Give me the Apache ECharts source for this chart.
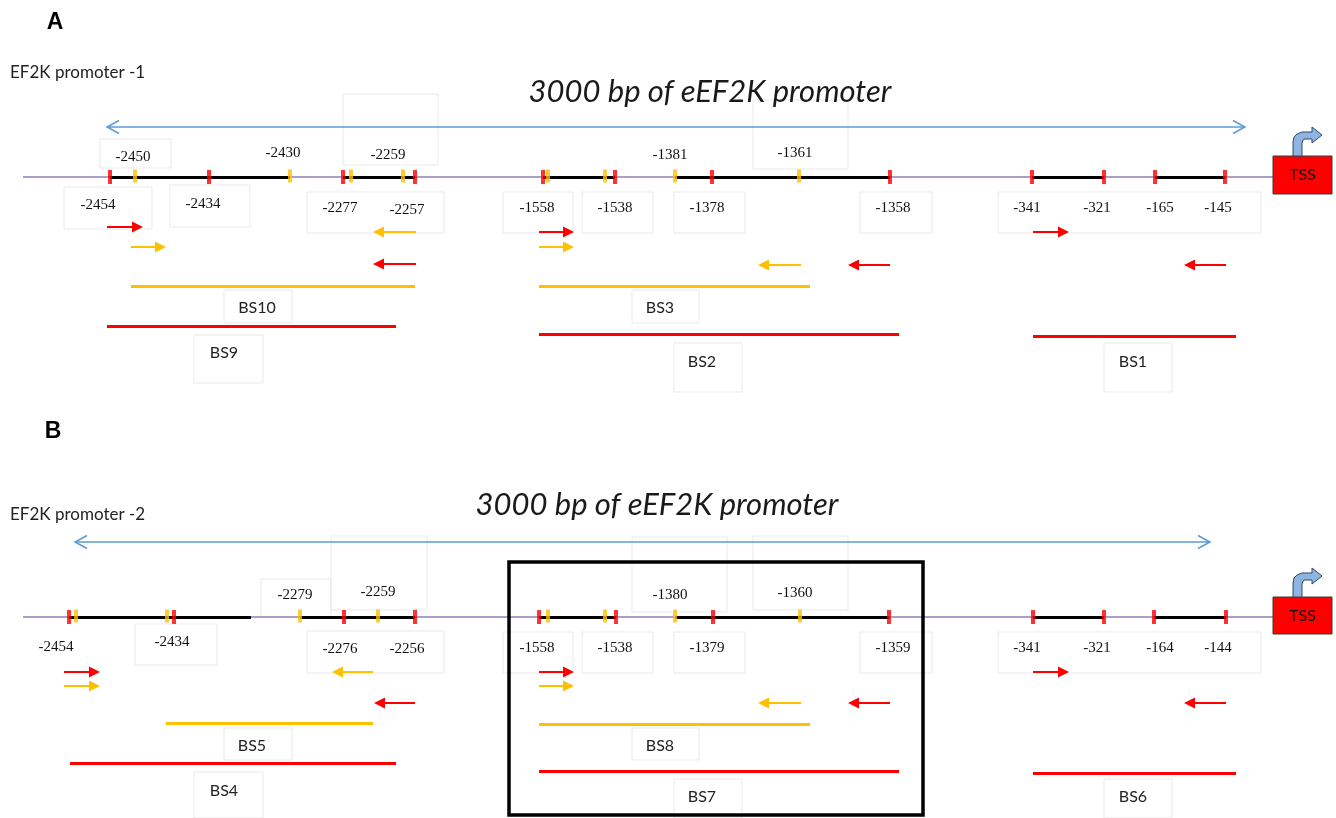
<!DOCTYPE html>
<html>
<head>
<meta charset="utf-8">
<title>eEF2K promoter</title>
<script src="https://cdn.jsdelivr.net/npm/echarts@6/dist/echarts.min.js"></script>
<style>
  html, body { margin: 0; padding: 0; background: #fff; }
  #main { width: 1336px; height: 818px; }
</style>
</head>
<body>
<div id="main"></div>
<script>
  // diagram units: x along the drawing, y down the page (1 unit ~ 1px)

  // ---- panel A : EF2K promoter -1 ----
  var promoterA = 'EF2K promoter -1';
  var baseA = 177;
  var spanA = [107, 1245];
  var blackA = [[110, 290], [343, 415], [543, 615], [675, 890], [1032, 1104], [1155, 1225]];
  var redTickA = [110, 209, 343, 415, 543, 615, 712, 890, 1032, 1104, 1155, 1225];
  var yellowTickA = [135, 290, 351, 403, 548, 605, 675, 799];
  var sitesA = [
    ['-2450', 133, 157], ['-2430', 283, 153], ['-2259', 388, 155], ['-1381', 670, 155], ['-1361', 795, 153],
    ['-2454', 98, 205], ['-2434', 203, 204], ['-2277', 340, 208], ['-2257', 407, 210],
    ['-1558', 537, 208], ['-1538', 615, 208], ['-1378', 707, 208], ['-1358', 893, 208],
    ['-341', 1027, 208], ['-321', 1097, 208], ['-165', 1160, 208], ['-145', 1218, 208]
  ];
  var redPrimerA = [[107, 143, 227], [416, 373, 264], [539, 574, 232], [890, 848, 265], [1033, 1069, 232], [1226, 1184, 265]];
  var yellowPrimerA = [[131, 166, 247], [416, 373, 232], [539, 574, 247], [801, 758, 265]];
  var yellowBsA = [[131, 415, 286], [539, 810, 286]];
  var redBsA = [[107, 396, 326], [539, 899, 334], [1033, 1236, 336]];
  var bsNamesA = [['BS10', 257, 308], ['BS3', 660, 308], ['BS9', 224, 353], ['BS2', 702, 362], ['BS1', 1133, 362]];

  // ---- panel B : EF2K promoter -2 ----
  var promoterB = 'EF2K promoter -2';
  var baseB = 617;
  var spanB = [75, 1210];
  var blackB = [[69, 251], [300, 415], [539, 616], [675, 889], [1033, 1104], [1154, 1226]];
  var redTickB = [69, 174, 344, 415, 539, 616, 713, 889, 1033, 1104, 1154, 1226];
  var yellowTickB = [76, 167, 300, 378, 548, 605, 675, 800];
  var sitesB = [
    ['-2279', 295, 595], ['-2259', 378, 592], ['-1380', 670, 595], ['-1360', 795, 593],
    ['-2454', 56, 647], ['-2434', 172, 642], ['-2276', 340, 649], ['-2256', 407, 649],
    ['-1558', 537, 648], ['-1538', 615, 648], ['-1379', 707, 648], ['-1359', 893, 648],
    ['-341', 1027, 648], ['-321', 1097, 648], ['-164', 1160, 648], ['-144', 1218, 648]
  ];
  var redPrimerB = [[64, 100, 672], [415, 374, 703], [539, 574, 672], [890, 848, 703], [1033, 1069, 672], [1226, 1184, 703]];
  var yellowPrimerB = [[64, 100, 686], [373, 332, 672], [539, 574, 686], [801, 758, 703]];
  var yellowBsB = [[166, 373, 723], [539, 810, 724]];
  var redBsB = [[70, 396, 763], [539, 899, 771], [1033, 1236, 773]];
  var bsNamesB = [['BS5', 252, 746], ['BS8', 660, 746], ['BS4', 224, 791], ['BS7', 702, 797], ['BS6', 1133, 797]];

  var titleText = '3000 bp of eEF2K promoter';
  var titles = [[titleText, 710, 92], [titleText, 657, 505]];
  var panelLetters = [['A', 55, 23], ['B', 53, 432]];
  var promoterNames = [[promoterA, 10, 73], [promoterB, 10, 515]];
  var tssBoxes = [[1273, 156, 1332, 194], [1273, 597, 1332, 634]];
  var highlight = [[509, 562, 923, 815]];

  // leftover text-box outlines from the original figure
  var frames = [
    [100, 139, 171, 168], [64, 187, 152, 229], [170, 185, 250, 227], [307, 192, 444, 233], [343, 94, 438, 165],
    [503, 192, 573, 233], [582, 192, 653, 233], [674, 192, 745, 233], [860, 192, 932, 233], [753, 100, 848, 169],
    [998, 192, 1261, 233], [224, 290, 292, 323], [194, 335, 263, 383], [632, 290, 699, 323],
    [674, 343, 742, 392], [1104, 343, 1172, 392],
    [135, 624, 217, 665], [261, 579, 331, 617], [331, 536, 427, 610], [307, 631, 444, 673],
    [503, 632, 573, 673], [582, 632, 653, 673], [674, 632, 745, 673], [860, 632, 932, 673],
    [632, 537, 727, 612], [753, 536, 848, 610], [998, 632, 1261, 673],
    [224, 728, 292, 760], [194, 772, 263, 818], [632, 728, 699, 760], [674, 779, 742, 818], [1104, 779, 1172, 818]
  ];

  var RED = '#ff0000', YELLOW = '#ffc000', PURPLE = '#ad9fca', BLUE = '#5b9bd5';

  function hLines(list, y) {
    return list.map(function (s) {
      return { coords: [[s[0], y === undefined ? s[2] : y], [s[1], y === undefined ? s[2] : y]] };
    });
  }
  function ticks(list, y) {
    return list.map(function (x) { return [x, y]; });
  }

  function rectRender(style) {
    return function (params, api) {
      var a = api.coord([api.value(0), api.value(1)]);
      var b = api.coord([api.value(2), api.value(3)]);
      return {
        type: 'rect',
        shape: { x: a[0], y: a[1], width: b[0] - a[0], height: b[1] - a[1] },
        style: style
      };
    };
  }

  function textSeries(list, font, color, align) {
    return {
      type: 'custom',
      silent: true,
      data: list.map(function (d) { return [d[1], d[2]]; }),
      renderItem: function (params, api) {
        var p = api.coord([api.value(0), api.value(1)]);
        return {
          type: 'text',
          x: p[0], y: p[1],
          style: {
            text: list[params.dataIndex][0],
            fill: color,
            font: font,
            align: align || 'center',
            verticalAlign: 'middle'
          }
        };
      }
    };
  }

  function primerSeries(list, color) {
    return {
      type: 'custom',
      silent: true,
      itemStyle: { color: color },
      data: list,
      renderItem: function (params, api) {
        var p1 = api.coord([api.value(0), api.value(2)]);
        var p2 = api.coord([api.value(1), api.value(2)]);
        var dir = p2[0] > p1[0] ? 1 : -1;
        var head = 11;
        var c = api.visual('color');
        return {
          type: 'group',
          children: [
            { type: 'line', shape: { x1: p1[0], y1: p1[1], x2: p2[0] - dir * head, y2: p2[1] }, style: { stroke: c, lineWidth: 2 } },
            { type: 'polygon', shape: { points: [[p2[0], p2[1]], [p2[0] - dir * head, p2[1] - 5.5], [p2[0] - dir * head, p2[1] + 5.5]] }, style: { fill: c } }
          ]
        };
      }
    };
  }

  var chart = echarts.init(document.getElementById('main'), null, { renderer: 'canvas' });

  chart.setOption({
    animation: false,
    backgroundColor: '#ffffff',
    grid: { left: 0, right: 0, top: 0, bottom: 0 },
    xAxis: { type: 'value', min: 0, max: 1336, show: false },
    yAxis: { type: 'value', min: 0, max: 818, inverse: true, show: false },
    series: [
      // faint text-box outlines
      {
        type: 'custom', silent: true, data: frames,
        renderItem: rectRender({ fill: 'none', stroke: '#e9e9e9', lineWidth: 1 })
      },
      // promoter backbone
      {
        type: 'lines', coordinateSystem: 'cartesian2d', silent: true,
        lineStyle: { color: PURPLE, width: 2, opacity: 1 },
        data: [{ coords: [[23, baseA], [1273, baseA]] }, { coords: [[23, baseB], [1273, baseB]] }]
      },
      // 3000 bp span arrows
      {
        type: 'custom', silent: true,
        data: [[spanA[0], spanA[1], 127], [spanB[0], spanB[1], 542]],
        renderItem: function (params, api) {
          var a = api.coord([api.value(0), api.value(2)]);
          var b = api.coord([api.value(1), api.value(2)]);
          var st = { stroke: BLUE, lineWidth: 1.5, fill: 'none' };
          return {
            type: 'group',
            children: [
              { type: 'line', shape: { x1: a[0], y1: a[1], x2: b[0], y2: b[1] }, style: st },
              { type: 'polyline', shape: { points: [[a[0] + 12, a[1] - 6.5], [a[0], a[1]], [a[0] + 12, a[1] + 6.5]] }, style: st },
              { type: 'polyline', shape: { points: [[b[0] - 12, b[1] - 6.5], [b[0], b[1]], [b[0] - 12, b[1] + 6.5]] }, style: st }
            ]
          };
        }
      },
      // amplified stretches
      {
        type: 'lines', coordinateSystem: 'cartesian2d', silent: true,
        lineStyle: { color: '#000', width: 3, opacity: 1 },
        data: hLines(blackA, baseA).concat(hLines(blackB, baseB))
      },
      // site ticks
      {
        type: 'scatter', silent: true, symbol: 'rect', symbolSize: [4, 14],
        itemStyle: { color: RED },
        data: ticks(redTickA, baseA).concat(ticks(redTickB, baseB))
      },
      {
        type: 'scatter', silent: true, symbol: 'rect', symbolSize: [4, 13],
        itemStyle: { color: YELLOW },
        data: ticks(yellowTickA, baseA - 1).concat(ticks(yellowTickB, baseB - 1))
      },
      // primers
      primerSeries(redPrimerA.concat(redPrimerB), RED),
      primerSeries(yellowPrimerA.concat(yellowPrimerB), YELLOW),
      // binding sites
      {
        type: 'lines', coordinateSystem: 'cartesian2d', silent: true,
        lineStyle: { color: YELLOW, width: 3, opacity: 1 },
        data: hLines(yellowBsA).concat(hLines(yellowBsB))
      },
      {
        type: 'lines', coordinateSystem: 'cartesian2d', silent: true,
        lineStyle: { color: RED, width: 3, opacity: 1 },
        data: hLines(redBsA).concat(hLines(redBsB))
      },
      // highlighted region in B
      {
        type: 'custom', silent: true, data: highlight,
        renderItem: rectRender({ fill: 'none', stroke: '#000', lineWidth: 3.5 })
      },
      // TSS boxes with bent arrow
      {
        type: 'custom', silent: true, data: tssBoxes,
        renderItem: function (params, api) {
          var a = api.coord([api.value(0), api.value(1)]);
          var b = api.coord([api.value(2), api.value(3)]);
          var cx = a[0] + 25, top = a[1];
          var rel = [[-5, 0], [-5, -14], [-4, -19], [-1, -22], [4, -24], [14, -24], [14, -29], [24, -21],
                     [14, -13], [14, -17], [7, -17], [5, -16], [4, -13], [4, 0]];
          return {
            type: 'group',
            children: [
              { type: 'rect', shape: { x: a[0], y: a[1], width: b[0] - a[0], height: b[1] - a[1] },
                style: { fill: '#ff0000', stroke: '#3a3a3a', lineWidth: 1 } },
              { type: 'polygon', shape: { points: rel.map(function (p) { return [cx + p[0], top + p[1]]; }) },
                style: { fill: '#8eb4e3', stroke: '#34495e', lineWidth: 1 } },
              { type: 'text', x: (a[0] + b[0]) / 2, y: (a[1] + b[1]) / 2,
                style: { text: 'TSS', fill: '#111', font: '16px Lato', align: 'center', verticalAlign: 'middle' } }
            ]
          };
        }
      },
      // texts
      textSeries(sitesA.concat(sitesB), '15px "Liberation Serif"', '#111'),
      textSeries(bsNamesA.concat(bsNamesB), '16px Lato', '#222'),
      textSeries(titles, 'italic 31px Lato', '#1a1a1a'),
      textSeries(promoterNames, '17px Lato', '#222', 'left'),
      textSeries(panelLetters, 'bold 23px "Liberation Sans"', '#000')
    ]
  });
</script>
</body>
</html>
